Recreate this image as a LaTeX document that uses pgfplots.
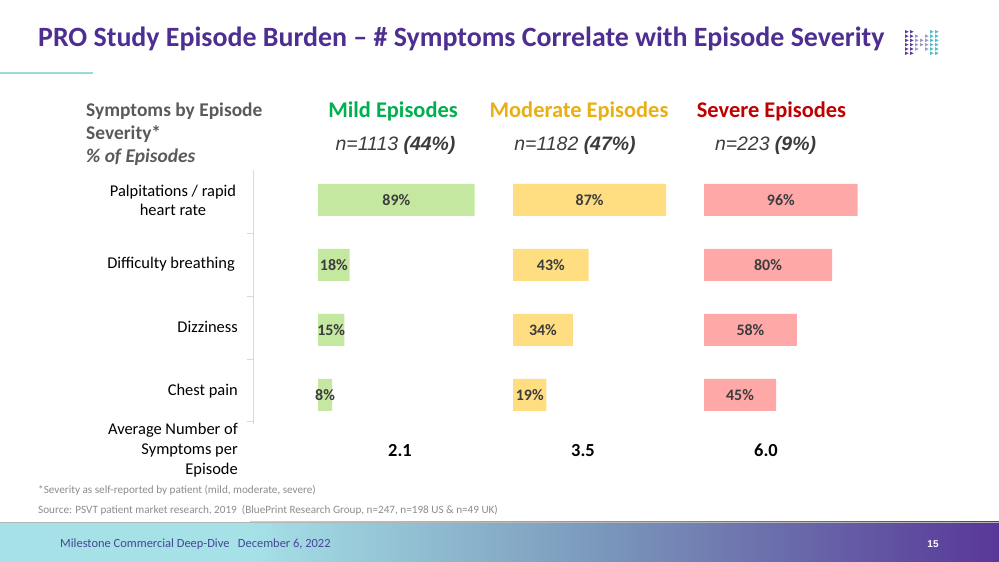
\documentclass[border=0pt]{standalone}
\usepackage{pgfplots}
\pgfplotsset{compat=1.18}
\usepackage{pgfplotstable}
\usepackage{fontspec}
\setmainfont{Carlito}
\newfontfamily\arial{Liberation Sans}

\definecolor{titlepurple}{RGB}{78,46,145}
\definecolor{accentteal}{RGB}{158,217,220}
\definecolor{mildgreen}{RGB}{0,176,80}
\definecolor{modgold}{RGB}{232,176,20}
\definecolor{sevred}{RGB}{192,0,0}
\definecolor{barmild}{RGB}{197,232,160}
\definecolor{barmod}{RGB}{255,222,130}
\definecolor{barsev}{RGB}{255,168,168}
\definecolor{labeltext}{RGB}{60,60,60}
\definecolor{headgray}{RGB}{90,90,90}
\definecolor{notegray}{RGB}{140,140,140}
\definecolor{rulegray}{RGB}{217,217,217}
\definecolor{bandA}{RGB}{166,225,232}
\definecolor{bandB}{RGB}{122,152,187}
\definecolor{bandC}{RGB}{88,55,152}
\definecolor{foottext}{RGB}{70,70,150}
\definecolor{logoP}{RGB}{90,62,152}
\definecolor{logoM}{RGB}{160,150,200}
\definecolor{logoT}{RGB}{76,190,200}

% share of episodes with each symptom, by severity
\pgfplotstableread{
row mild moderate severe
1   89   87       96
2   18   43       80
3   15   34       58
4   8    19       45
}\symptoms

\pgfplotsset{
  groupaxis/.style={
    anchor=south west, scale only axis, height=260bp,
    xmin=0, xmax=100, ymin=0.5, ymax=4.5, y dir=reverse,
    hide axis, clip=false,
    /pgf/number format/assume math mode=true,
  },
  barstyle/.style={xbar, bar width=32bp, draw=none, fill=#1},
  valuelabels/.style={
    draw=none, mark=none, point meta=explicit,
    nodes near coords={\pgfmathprintnumber{\pgfplotspointmeta}\%},
    every node near coord/.append style={anchor=center,
      font=\fontsize{16}{18}\selectfont\bfseries, text=labeltext},
  },
}

\begin{document}
\begin{tikzpicture}
\begin{scope}[x=1bp,y=1bp]
\path[use as bounding box, fill=white] (0,0) rectangle (999,562);

% title and accent rule
\node[anchor=base west, inner sep=0, text=titlepurple,
  font=\fontsize{28}{30}\selectfont\bfseries] at (38,515)
  {PRO Study Episode Burden -- \# Symptoms Correlate with Episode Severity};
\draw[accentteal, line width=2bp] (0,489) -- (93,489);

% logo
\foreach \c/\col/\rlo/\rhi in {0/logoP/0/5,1/logoP/0/5,2/logoM/1/4,3/logoM/2/3,4/logoM/1/4,5/logoT/0/5,6/logoT/0/5}{
  \foreach \r in {\rlo,...,\rhi}{
    \fill[\col] ({905+5*\c},{532-4.3*\r}) -- ++(3.6,-1.8) -- ++(-3.6,-1.8) -- cycle;
  }
}

% column headers
\node[anchor=base, inner sep=0, text=mildgreen, font=\fontsize{22.5}{25}\selectfont\bfseries] at (393,444) {Mild Episodes};
\node[anchor=base, inner sep=0, text=modgold, font=\fontsize{22.5}{25}\selectfont\bfseries] at (579,444) {Moderate Episodes};
\node[anchor=base, inner sep=0, text=sevred, font=\fontsize{22.5}{25}\selectfont\bfseries] at (771.5,444) {Severe Episodes};

\node[anchor=base, inner sep=0, text=labeltext, font=\arial\fontsize{19.5}{22}\selectfont\itshape] at (395.5,411) {n=1113 \textbf{(44\%)}};
\node[anchor=base, inner sep=0, text=labeltext, font=\arial\fontsize{19.5}{22}\selectfont\itshape] at (575,411) {n=1182 \textbf{(47\%)}};
\node[anchor=base, inner sep=0, text=labeltext, font=\arial\fontsize{19.5}{22}\selectfont\itshape] at (765.5,411) {n=223 \textbf{(9\%)}};

% left header
\node[anchor=base west, inner sep=0, text=headgray, font=\fontsize{19.5}{22}\selectfont\bfseries] at (86,445) {Symptoms by Episode};
\node[anchor=base west, inner sep=0, text=headgray, font=\fontsize{19.5}{22}\selectfont\bfseries] at (86,422) {Severity*};
\node[anchor=base west, inner sep=0, text=headgray, font=\fontsize{19.5}{22}\selectfont\bfseries\itshape] at (86,399) {\% of Episodes};

% row labels
\begin{scope}[every node/.style={inner sep=0, font=\fontsize{16.5}{19}\selectfont}]
\node[anchor=base] at (173,365.3) {Palpitations / rapid};
\node[anchor=base] at (173,346) {heart rate};
\node[anchor=base east] at (235,293) {Difficulty breathing};
\node[anchor=base east] at (238,229.3) {Dizziness};
\node[anchor=base east] at (238,166) {Chest pain};
\node[anchor=base east] at (238,127) {Average Number of};
\node[anchor=base east] at (238,107) {Symptoms per};
\node[anchor=base east] at (238,87) {Episode};
\end{scope}

% separator rule with row ticks
\draw[rulegray, line width=0.8bp] (253,392) -- (253,138);
\foreach \yy in {329,266,203,141} \draw[rulegray, line width=0.8bp] (247,\yy) -- (253,\yy);

% average number of symptoms
\begin{scope}[every node/.style={inner sep=0, anchor=base, font=\fontsize{18.5}{20}\selectfont\bfseries}]
\node at (400,105) {2.1};
\node at (583,105) {3.5};
\node at (766,105) {6.0};
\end{scope}

% notes
\node[anchor=base west, inner sep=0, text=notegray, font=\fontsize{11.2}{13}\selectfont] at (38,68)
  {*Severity as self-reported by patient (mild, moderate, severe)};
\node[anchor=base west, inner sep=0, text=notegray, font=\fontsize{11.2}{13}\selectfont] at (38,48)
  {Source: PSVT patient market research, 2019 \ (BluePrint Research Group, n=247, n=198 US \& n=49 UK)};

% footer band
\fill[bandA] (0,0) rectangle (250.5,40);
\shade[left color=bandA, right color=bandB] (250,0) rectangle (600.5,40);
\shade[left color=bandB, right color=bandC] (600,0) rectangle (999,40);
\draw[rulegray!60!gray, line width=0.6bp] (0,40) -- (999,40);
\node[anchor=west, inner sep=0, text=foottext, font=\fontsize{12.5}{14}\selectfont] at (60,18)
  {Milestone Commercial Deep-Dive \ \ December 6, 2022};
\node[inner sep=0, text=white, font=\arial\fontsize{10}{12}\selectfont\bfseries] at (933,18) {15};
\end{scope}

% bars
\begin{axis}[groupaxis, at={(318bp,134.5bp)}, width=176bp]
  \addplot[barstyle=barmild] table[x=mild, y=row] {\symptoms};
  \addplot[valuelabels] table[x expr=\thisrow{mild}/2, y=row, meta=mild] {\symptoms};
\end{axis}
\begin{axis}[groupaxis, at={(513bp,134.5bp)}, width=176bp]
  \addplot[barstyle=barmod] table[x=moderate, y=row] {\symptoms};
  \addplot[valuelabels] table[x expr=\thisrow{moderate}/2, y=row, meta=moderate] {\symptoms};
\end{axis}
\begin{axis}[groupaxis, at={(704bp,134.5bp)}, width=160bp]
  \addplot[barstyle=barsev] table[x=severe, y=row] {\symptoms};
  \addplot[valuelabels] table[x expr=\thisrow{severe}/2, y=row, meta=severe] {\symptoms};
\end{axis}
\end{tikzpicture}
\end{document}
